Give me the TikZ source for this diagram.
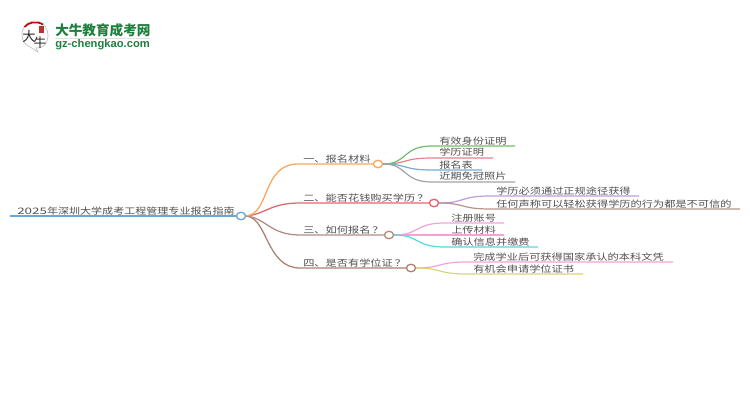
\documentclass[tikz,border=0pt]{standalone}
\usepackage{fontspec}
\usepackage{graphicx}
\usetikzlibrary{shapes.geometric}
\setmainfont{Noto Sans CJK SC}
\newfontfamily\logolatin{Liberation Sans}
\definecolor{txt}{HTML}{505050}
\definecolor{cRoot}{HTML}{6CA6D6}
\definecolor{cA}{HTML}{F9A65A}
\definecolor{cB}{HTML}{E2656C}
\definecolor{cC}{HTML}{B08D80}
\definecolor{cD}{HTML}{AC8072}
\definecolor{cGreen}{HTML}{6CBF6A}
\definecolor{cRed}{HTML}{E8808A}
\definecolor{cBlue}{HTML}{76ABD6}
\definecolor{cGray}{HTML}{A3A3A3}
\definecolor{cPurple}{HTML}{BE9BDB}
\definecolor{cBrown}{HTML}{B8948C}
\definecolor{cPink}{HTML}{EFA3D8}
\definecolor{cCyan}{HTML}{5CD3E3}
\definecolor{cOlive}{HTML}{D8D673}
\definecolor{logoG}{HTML}{1E7F3E}
\newcommand{\wide}[1]{\scalebox{1.254}[1]{#1}}
\newcommand{\widedig}[1]{\scalebox{1.5}[1]{#1}}
\tikzset{
 lbl/.style={anchor=base west,inner sep=0pt,text=txt,font=\fontsize{6.7pt}{6.7pt}\selectfont},
 hub/.style={draw=#1,fill=white,ellipse,line width=1pt,minimum width=6.8pt,minimum height=5.6pt,inner sep=0pt},
 conn/.style={draw=#1,line width=0.95pt},
 twig/.style={draw=#1,line width=0.9pt}
}
\begin{document}
\begin{tikzpicture}[x=0.75pt,y=-0.75pt]
\useasboundingbox (0,0) rectangle (750,410);
% logo
\path[draw=black!25,fill=white,line width=0.5pt] (35,21) .. controls (44,21) and (48,29) .. (48,35) .. controls (48,44) and (42,49) .. (36,48) -- (38,52) -- (30,47) .. controls (25,45) and (22,41) .. (22,35) .. controls (22,27) and (27,21) .. (35,21) -- cycle;
\path[draw=red!75!black,line width=1.2pt] (24.5,27) .. controls (28,22.5) and (36,20.5) .. (43,24.5);
\fill[red!65!black!80] (38.5,26) rectangle (44,33);
\node[inner sep=0pt,text=black!85,font=\fontsize{10pt}{10pt}\selectfont] (logoA) at (29,36.5) {大};
\node[inner sep=0pt,text=black!85,font=\fontsize{9.5pt}{9.5pt}\selectfont] (logoB) at (40,43) {牛};
\node[anchor=base west,inner sep=0pt,text=logoG,font=\fontsize{10.2pt}{10.2pt}\selectfont\bfseries] (logoT) at (55,35.5) {大牛教育成考网};
\coordinate (ruleL) at (55,38); \coordinate (ruleR) at (150,38);
\draw[black!12,line width=0.5pt] (ruleL) -- (ruleR);
\node[anchor=base west,inner sep=0pt,text=logoG,font=\fontsize{8.4pt}{8.4pt}\logolatin\bfseries] (logoU) at (55,48) {gz-chengkao.com};
% root
\node[hub=cRoot] (r) at (241,216) {};
\coordinate (r0) at (10,216);
\draw[conn=cRoot] (r0) -- (r.west);
\node[lbl] (rt) at (17,214) {\widedig{2025}\scalebox{1.236}[1]{年深圳大学成考工程管理专业报名指南}};
% hubs
\node[hub=cA] (a) at (378,164) {};
\node[hub=cB] (b) at (434,203) {};
\node[hub=cC] (c) at (389,235) {};
\node[hub=cD] (d) at (411,268) {};
\draw[conn=cD] (r.east) .. controls (268,218) and (266,268) .. (300,268) -- (d.west);
\draw[conn=cC] (r.east) .. controls (266,218) and (270,235) .. (300,235) -- (c.west);
\draw[conn=cB] (r.east) .. controls (266,214) and (270,203) .. (300,203) -- (b.west);
\draw[conn=cA] (r.east) .. controls (270,214) and (262,164) .. (298,164) -- (a.west);
\node[lbl] (at) at (303,162) {\wide{一、报名材料}};
\node[lbl] (bt) at (303,201) {\wide{二、能否花钱购买学历}\hspace{1.5pt}\wide{？}};
\node[lbl] (ct) at (303,233) {\wide{三、如何报名}\hspace{1.5pt}\wide{？}};
\node[lbl] (dt) at (303,266) {\wide{四、是否有学位证}\hspace{1.5pt}\wide{？}};
% leaves branch A
\coordinate (a1) at (515,146); \coordinate (a2) at (493,158); \coordinate (a3) at (482,170); \coordinate (a4) at (515,182);
\draw[twig=cGreen] (a.east) .. controls (408,164) and (402,146) .. (432,146) -- (a1);
\draw[twig=cRed] (a.east) .. controls (408,164) and (402,158) .. (432,158) -- (a2);
\draw[twig=cBlue] (a.east) .. controls (408,164) and (402,170) .. (432,170) -- (a3);
\draw[twig=cGray] (a.east) .. controls (408,164) and (402,182) .. (432,182) -- (a4);
\node[lbl] (a1t) at (439,144) {\wide{有效身份证明}};
\node[lbl] (a2t) at (439,156) {\wide{学历证明}};
\node[lbl] (a3t) at (439,168) {\wide{报名表}};
\node[lbl] (a4t) at (439,180) {\wide{近期免冠照片}};
% leaves branch B
\coordinate (b1) at (639,196); \coordinate (b2) at (740,209);
\draw[twig=cPurple] (b.east) .. controls (465,203) and (460,196) .. (490,196) -- (b1);
\draw[twig=cBrown] (b.east) .. controls (465,203) and (460,209) .. (490,209) -- (b2);
\node[lbl] (b1t) at (496,194) {\wide{学历必须通过正规途径获得}};
\node[lbl] (b2t) at (496,207) {\wide{任何声称可以轻松获得学历的行为都是不可信的}};
% leaves branch C
\coordinate (c1) at (504,223); \coordinate (c2) at (504,235); \coordinate (c3) at (538,247);
\draw[twig=cPink] (c.east) .. controls (420,235) and (414,223) .. (445,223) -- (c1);
\draw[twig=cPink] (c.east) -- (c2);
\draw[twig=cCyan] (c.east) .. controls (420,235) and (414,247) .. (445,247) -- (c3);
\node[lbl] (c1t) at (451,221) {\wide{注册账号}};
\node[lbl] (c2t) at (451,233) {\wide{上传材料}};
\node[lbl] (c3t) at (451,245) {\wide{确认信息并缴费}};
% leaves branch D
\coordinate (d1) at (673,262); \coordinate (d2) at (583,274);
\draw[twig=cPink] (d.east) .. controls (442,268) and (437,262) .. (467,262) -- (d1);
\draw[twig=cOlive] (d.east) .. controls (442,268) and (437,274) .. (467,274) -- (d2);
\node[lbl] (d1t) at (473,260) {\wide{完成学业后可获得国家承认的本科文凭}};
\node[lbl] (d2t) at (473,272) {\wide{有机会申请学位证书}};
\end{tikzpicture}
\end{document}
